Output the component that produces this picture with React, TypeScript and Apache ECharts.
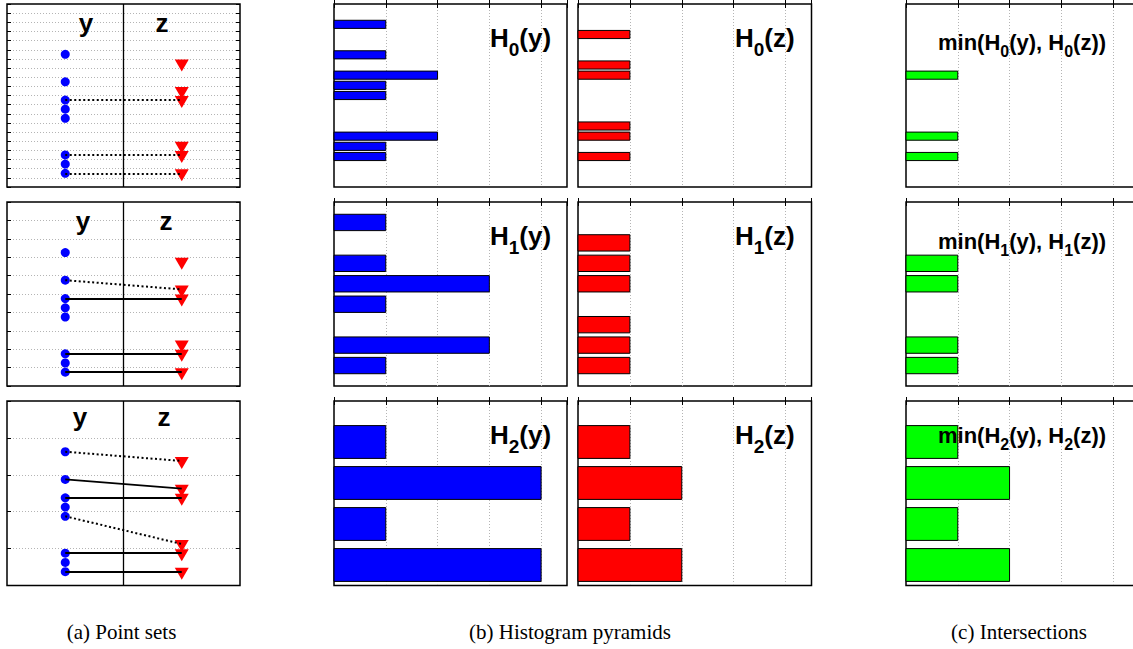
import React, { useEffect, useRef } from 'react';
import * as echarts from 'echarts';

// ---- data ----
const yPoints = [5.5, 8.5, 10.5, 11.5, 12.5, 16.5, 17.5, 18.5];
const zPoints = [6.5, 9.5, 10.5, 15.5, 16.5, 18.5];
const yColumn = 0.25;
const zColumn = 0.75;
const dividerX = 0.5;
const pointRange = 20;
const levelGridStep = [1, 2, 4];
// matches per level: [y value, z value]
const newMatches0 = [[10.5, 10.5], [16.5, 16.5], [18.5, 18.5]];
const newMatches1 = [[8.5, 9.5]];
const newMatches2 = [[5.5, 6.5], [12.5, 15.5]];
const oldMatches0: number[][] = [];
const oldMatches1 = [[10.5, 10.5], [16.5, 16.5], [18.5, 18.5]];
const oldMatches2 = [[8.5, 9.5], [10.5, 10.5], [16.5, 16.5], [18.5, 18.5]];
const newMatches = [newMatches0, newMatches1, newMatches2];
const oldMatches = [oldMatches0, oldMatches1, oldMatches2];

const binRange = [18, 9, 4.5];
const hyBins = [[2, 5, 7, 8, 9, 13, 14, 15], [1, 3, 4, 5, 7, 8], [1, 2, 3, 4]];
const hyCounts = [[1, 1, 2, 1, 1, 2, 1, 1], [1, 1, 3, 1, 3, 1], [1, 4, 1, 4]];
const hzBins = [[3, 6, 7, 12, 13, 15], [2, 3, 4, 6, 7, 8], [1, 2, 3, 4]];
const hzCounts = [[1, 1, 1, 1, 1, 1], [1, 1, 1, 1, 1, 1], [1, 2, 1, 2]];
const minBins = [[7, 13, 15], [3, 4, 7, 8], [1, 2, 3, 4]];
const minCounts = [[1, 1, 1], [1, 1, 1, 1], [1, 2, 1, 2]];
const countMax = 4.5;
const countStep = 1;
const captions = ['(a) Point sets', '(b) Histogram pyramids', '(c) Intersections'];
const levels = [0, 1, 2];

// ---- layout ----
const rowTop = [4, 202, 401];
const rowH = [183, 184, 184.5];
const colLeft = [7, 334, 578, 906];
const colW = [233, 233, 233.5, 233];
const SANS = 'Liberation Sans';
const SERIF = 'Liberation Serif';
const gridColor = '#b4b4b4';

function buildOption() {
  const grids: any[] = [];
  const xAxes: any[] = [];
  const yAxes: any[] = [];
  const series: any[] = [];
  const graphics: any[] = [];

  const barRender = (color: string) => (params: any, api: any) => {
    const pos = api.value(0) as number;
    const cnt = api.value(1) as number;
    const a = api.coord([0, pos - 0.4]);
    const b = api.coord([cnt, pos + 0.4]);
    return {
      type: 'rect',
      shape: { x: a[0], y: Math.min(a[1], b[1]), width: b[0] - a[0], height: Math.abs(b[1] - a[1]) },
      style: { fill: color, stroke: '#000', lineWidth: 1 },
    };
  };

  levels.forEach((r) => {
    for (let c = 0; c < 4; c++) {
      const gi = grids.length;
      grids.push({
        left: colLeft[c], top: rowTop[r], width: colW[c], height: rowH[r],
        show: true, borderColor: '#000', borderWidth: 1.5, backgroundColor: '#fff',
      });
      if (c === 0) {
        const xi = xAxes.length;
        xAxes.push({
          type: 'value', gridIndex: gi, min: 0, max: 1,
          axisLine: { show: false }, axisTick: { show: false }, axisLabel: { show: false }, splitLine: { show: false },
        });
        const yi = yAxes.length;
        const yBase = {
          type: 'value', gridIndex: gi, min: 0, max: pointRange, interval: levelGridStep[r], inverse: true,
          axisLine: { show: false },
          axisTick: { show: true, inside: true, length: 4, lineStyle: { color: '#000', width: 1 } },
          axisLabel: { show: false },
        };
        yAxes.push({
          ...yBase, position: 'left',
          splitLine: { show: true, showMinLine: false, showMaxLine: false, lineStyle: { color: gridColor, type: [1, 2], width: 1 } },
        });
        yAxes.push({ ...yBase, position: 'right', splitLine: { show: false } });

        series.push({
          type: 'line', xAxisIndex: xi, yAxisIndex: yi, symbol: 'none', silent: true, z: 1,
          data: [[dividerX, 0], [dividerX, pointRange]],
          lineStyle: { color: '#000', width: 1.3 },
        });
        series.push({
          type: 'scatter', xAxisIndex: xi, yAxisIndex: yi, symbol: 'circle', symbolSize: 9, z: 2,
          itemStyle: { color: '#0000ff', opacity: 1 },
          data: yPoints.map((v) => [yColumn, v]),
        });
        series.push({
          type: 'scatter', xAxisIndex: xi, yAxisIndex: yi, symbol: 'triangle', symbolSize: [14, 12],
          symbolRotate: 180, symbolOffset: [0, 2], z: 2,
          itemStyle: { color: '#ff0000', opacity: 1 },
          data: zPoints.map((v) => [zColumn, v]),
        });
        series.push({
          type: 'lines', coordinateSystem: 'cartesian2d', xAxisIndex: xi, yAxisIndex: yi, z: 3, silent: true,
          data: oldMatches[r].map(([a, b]) => ({ coords: [[yColumn, a], [zColumn, b]] })),
          lineStyle: { color: '#000', width: 1.8, opacity: 1, type: 'solid' },
        });
        series.push({
          type: 'lines', coordinateSystem: 'cartesian2d', xAxisIndex: xi, yAxisIndex: yi, z: 3, silent: true,
          data: newMatches[r].map(([a, b]) => ({ coords: [[yColumn, a], [zColumn, b]] })),
          lineStyle: { color: '#000', width: 2, opacity: 1, type: [2, 2.5] },
        });
      } else {
        const xi = xAxes.length;
        const xBase = {
          type: 'value', gridIndex: gi, min: 0, max: countMax, interval: countStep,
          axisLine: { show: false },
          axisTick: { show: true, inside: true, length: 4, lineStyle: { color: '#000', width: 1 } },
          axisLabel: { show: false },
        };
        xAxes.push({
          ...xBase, position: 'bottom',
          splitLine: { show: true, showMinLine: false, showMaxLine: false, lineStyle: { color: gridColor, type: [1, 2], width: 1 } },
        });
        xAxes.push({ ...xBase, position: 'top', splitLine: { show: false } });
        const yi = yAxes.length;
        yAxes.push({ type: 'value', gridIndex: gi, min: 0, max: binRange[r], inverse: true, show: false });
        const bins = c === 1 ? hyBins[r] : c === 2 ? hzBins[r] : minBins[r];
        const counts = c === 1 ? hyCounts[r] : c === 2 ? hzCounts[r] : minCounts[r];
        const color = c === 1 ? '#0000ff' : c === 2 ? '#ff0000' : '#00ff00';
        series.push({
          type: 'custom', xAxisIndex: xi, yAxisIndex: yi, z: 2, silent: true,
          encode: { x: 1, y: 0 },
          data: bins.map((b, i) => [b, counts[i]]),
          renderItem: barRender(color),
        });
      }
    }

    // labels y / z in point panels
    const labY = [23, 220.5, 417][r];
    const yLabX = [86, 83, 80][r];
    const zLabX = [162, 166, 164][r];
    graphics.push({
      type: 'text', x: yLabX, y: labY, z: 10,
      style: { text: 'y', fill: '#000', fontSize: 26, fontWeight: 'bold', fontFamily: SANS, align: 'center', verticalAlign: 'middle' },
    });
    graphics.push({
      type: 'text', x: zLabX, y: labY, z: 10,
      style: { text: 'z', fill: '#000', fontSize: 26, fontWeight: 'bold', fontFamily: SANS, align: 'center', verticalAlign: 'middle' },
    });

    // histogram titles
    const richH = {
      m: { fontSize: 26, fontWeight: 'bold', fontFamily: SANS, fill: '#000', lineHeight: 34, verticalAlign: 'top' },
      s: { fontSize: 19, fontWeight: 'bold', fontFamily: SANS, fill: '#000', lineHeight: 34, verticalAlign: 'bottom' },
    };
    graphics.push({
      type: 'text', x: 490, y: rowTop[r] + 21, z: 10,
      style: { text: `{m|H}{s|${r}}{m|(y)}`, rich: richH, align: 'left', verticalAlign: 'top', fill: '#000' },
    });
    graphics.push({
      type: 'text', x: 735, y: rowTop[r] + 21, z: 10,
      style: { text: `{m|H}{s|${r}}{m|(z)}`, rich: richH, align: 'left', verticalAlign: 'top', fill: '#000' },
    });
    const richM = {
      m: { fontSize: 22, fontWeight: 'bold', fontFamily: SANS, fill: '#000', lineHeight: 28, verticalAlign: 'top' },
      s: { fontSize: 16, fontWeight: 'bold', fontFamily: SANS, fill: '#000', lineHeight: 28, verticalAlign: 'bottom' },
    };
    graphics.push({
      type: 'text', x: 938, y: rowTop[r] + [27, 28, 23][r], z: 10,
      style: { text: `{m|min(H}{s|${r}}{m|(y), H}{s|${r}}{m|(z))}`, rich: richM, align: 'left', verticalAlign: 'top', fill: '#000' },
    });
  });

  const capX = [121.5, 570, 1019];
  captions.forEach((t, i) => {
    graphics.push({
      type: 'text', x: capX[i], y: 632, z: 10,
      style: { text: t, fill: '#000', fontSize: 21, fontFamily: SERIF, align: 'center', verticalAlign: 'middle' },
    });
  });

  return {
    animation: false,
    backgroundColor: '#fff',
    textStyle: { fontFamily: SANS },
    grid: grids,
    xAxis: xAxes,
    yAxis: yAxes,
    series,
    graphic: graphics,
  };
}

export default function App() {
  const ref = useRef<HTMLDivElement>(null);
  useEffect(() => {
    if (!ref.current) return;
    const chart = echarts.init(ref.current, undefined, { renderer: 'svg' });
    chart.setOption(buildOption() as any);
    return () => chart.dispose();
  }, []);
  return (
    <div style={{ position: 'fixed', left: 0, top: 0, width: 1133, height: 649, overflow: 'hidden', background: '#fff' }}>
      <div ref={ref} style={{ width: 1150, height: 649 }} />
    </div>
  );
}
